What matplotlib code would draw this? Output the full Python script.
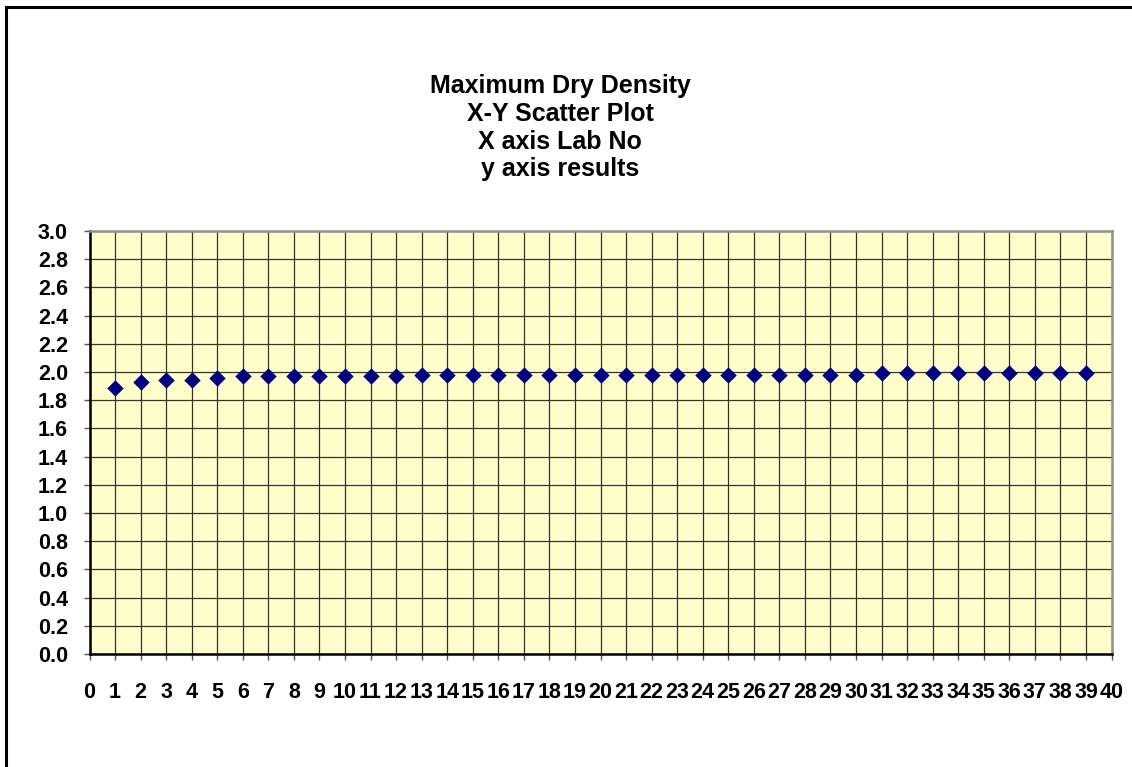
import matplotlib
matplotlib.use("Agg")
import matplotlib.pyplot as plt
from matplotlib.lines import Line2D

lab_no = list(range(1, 40))
results = [1.89, 1.93, 1.94, 1.94, 1.96, 1.97, 1.97, 1.97, 1.97, 1.97,
           1.97, 1.97, 1.98, 1.98, 1.98, 1.98, 1.98, 1.98, 1.98, 1.98,
           1.98, 1.98, 1.98, 1.98, 1.98, 1.98, 1.98, 1.98, 1.98, 1.98,
           1.99, 1.99, 1.99, 1.99, 1.99, 1.99, 1.99, 1.99, 1.99]
x_ticks = list(range(0, 41))
y_ticks = [round(0.2 * i, 1) for i in range(16)]
title_lines = ["Maximum Dry Density", "X-Y Scatter Plot", "X axis Lab No", "y axis results"]

plt.rcParams['font.family'] = ['Liberation Sans', 'DejaVu Sans']
plt.rcParams['font.weight'] = 'bold'

W, H = 1132, 767
fig = plt.figure(figsize=(W / 100, H / 100), dpi=100)
ax = fig.add_axes([89.5 / W, 1 - 654 / H, (1111.5 - 89.5) / W, (654 - 231) / H])
ax.set_facecolor('#FFFFCC')

ax.scatter(lab_no, results, marker='D', s=70, color='#000080', zorder=3, linewidths=0)

ax.set_xlim(0, 40)
ax.set_ylim(0, 3.0)
ax.set_xticks(x_ticks)
ax.set_yticks(y_ticks)
ax.set_xticklabels([str(v) for v in x_ticks], fontsize=15.5, fontweight='bold')
ax.set_yticklabels([f"{v:.1f}" for v in y_ticks], fontsize=15.5, fontweight='bold')
ax.tick_params(axis='x', direction='out', length=4.5, width=1, color='#555555', pad=16)
ax.tick_params(axis='y', direction='out', length=4.5, width=1, color='#555555', pad=11)
ax.grid(True, color='#333333', linewidth=0.9)
ax.set_axisbelow(True)

for s in ['left', 'bottom']:
    ax.spines[s].set_color('black')
    ax.spines[s].set_linewidth(1.8)
for s in ['top', 'right']:
    ax.spines[s].set_color('#909090')
    ax.spines[s].set_linewidth(1.8)

fig.text(560 / W, 1 - 74 / H, "\n".join(title_lines), ha='center', va='top',
         fontsize=18, fontweight='bold', linespacing=1.2)

# outer chart border (partially cut off in the reference)
fig.add_artist(Line2D([6 / W, 6 / W], [0, 1 - 7 / H], color='black', linewidth=2.2,
                      transform=fig.transFigure))
fig.add_artist(Line2D([6 / W, 1.0], [1 - 7 / H, 1 - 7 / H], color='black', linewidth=2.2,
                      transform=fig.transFigure))

fig.savefig("out.png", dpi=100)
